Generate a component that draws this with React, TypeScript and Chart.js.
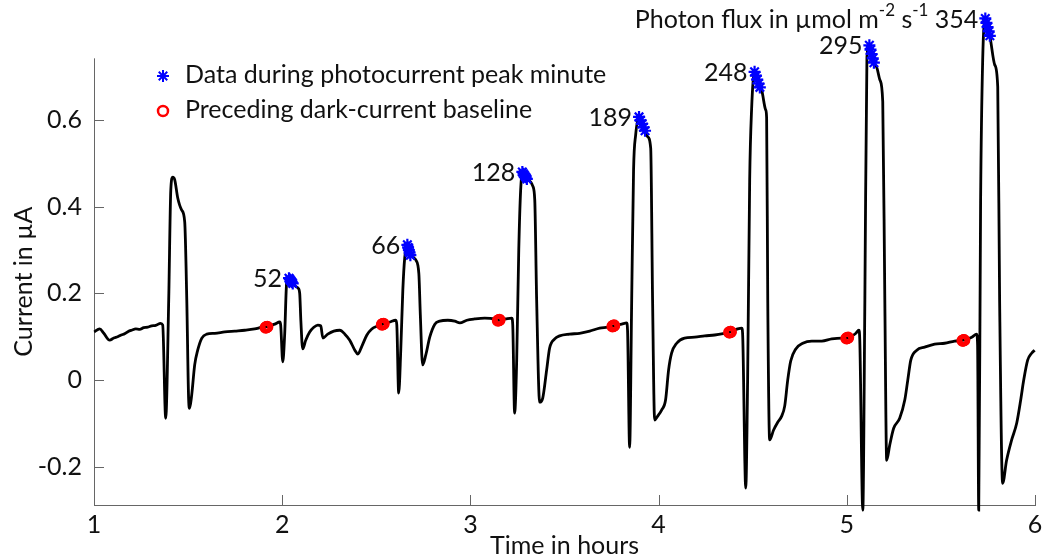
import React, { useEffect, useRef } from 'react';
import { Chart, registerables } from 'chart.js';

Chart.register(...registerables);

// ---- data ----
const traceHours = [
  1.001, 1.030, 1.052, 1.083, 1.105, 1.126, 1.145, 1.163, 1.182, 1.200, 1.222, 1.243, 1.264, 1.285, 1.306, 1.328, 1.354, 1.365,
  1.381, 1.397, 1.408, 1.418, 1.429, 1.445, 1.466, 1.482, 1.493, 1.503, 1.508, 1.519, 1.535, 1.551, 1.573, 1.599, 1.642, 1.695,
  1.748, 1.801, 1.854, 1.892, 1.923, 1.960, 1.987, 1.992, 2.003, 2.013, 2.024, 2.038, 2.050, 2.060, 2.072, 2.085, 2.093, 2.099,
  2.109, 2.125, 2.146, 2.168, 2.189, 2.205, 2.216, 2.242, 2.274, 2.306, 2.333, 2.359, 2.386, 2.402, 2.423, 2.450, 2.476, 2.508,
  2.535, 2.572, 2.604, 2.609, 2.619, 2.630, 2.641, 2.651, 2.665, 2.677, 2.688, 2.699, 2.710, 2.726, 2.734, 2.746, 2.763, 2.784,
  2.811, 2.837, 2.880, 2.917, 2.944, 2.981, 3.023, 3.076, 3.129, 3.150, 3.188, 3.220, 3.225, 3.235, 3.246, 3.257, 3.267, 3.278,
  3.290, 3.302, 3.318, 3.331, 3.342, 3.352, 3.368, 3.384, 3.405, 3.421, 3.448, 3.474, 3.527, 3.580, 3.634, 3.687, 3.729, 3.761,
  3.804, 3.830, 3.835, 3.846, 3.857, 3.867, 3.878, 3.896, 3.912, 3.928, 3.940, 3.958, 3.968, 3.979, 3.995, 4.016, 4.037, 4.053,
  4.069, 4.096, 4.138, 4.192, 4.245, 4.298, 4.351, 4.383, 4.420, 4.442, 4.447, 4.463, 4.473, 4.484, 4.494, 4.510, 4.524, 4.538,
  4.548, 4.569, 4.574, 4.580, 4.590, 4.611, 4.633, 4.654, 4.670, 4.686, 4.702, 4.729, 4.766, 4.814, 4.867, 4.920, 4.973, 5.005,
  5.048, 5.064, 5.069, 5.085, 5.096, 5.107, 5.120, 5.132, 5.144, 5.160, 5.176, 5.191, 5.202, 5.212, 5.228, 5.249, 5.281, 5.308,
  5.324, 5.340, 5.372, 5.414, 5.467, 5.520, 5.573, 5.621, 5.664, 5.690, 5.695, 5.701, 5.711, 5.722, 5.736, 5.748, 5.760, 5.786,
  5.802, 5.812, 5.828, 5.849, 5.876, 5.903, 5.924, 5.940, 5.961, 5.982, 5.998,
];
const traceCurrent = [
  0.111, 0.118, 0.108, 0.092, 0.097, 0.100, 0.104, 0.107, 0.112, 0.115, 0.118, 0.117, 0.121, 0.122, 0.125, 0.126, 0.131, 0.127,
  -0.088, 0.185, 0.438, 0.468, 0.462, 0.420, 0.392, 0.365, 0.185, -0.046, -0.065, -0.035, 0.035, 0.069, 0.097, 0.106, 0.108, 0.111,
  0.113, 0.115, 0.118, 0.122, 0.124, 0.129, 0.134, 0.127, 0.042, 0.104, 0.226, 0.235, 0.228, 0.222, 0.216, 0.212, 0.200, 0.138,
  0.072, 0.092, 0.111, 0.122, 0.127, 0.125, 0.097, 0.106, 0.113, 0.115, 0.106, 0.092, 0.069, 0.060, 0.078, 0.104, 0.118, 0.125,
  0.129, 0.134, 0.138, 0.127, -0.030, 0.069, 0.208, 0.282, 0.312, 0.300, 0.290, 0.282, 0.277, 0.246, 0.150, 0.035, 0.058, 0.099,
  0.129, 0.136, 0.138, 0.136, 0.132, 0.138, 0.141, 0.143, 0.141, 0.138, 0.141, 0.143, 0.127, -0.076, 0.046, 0.300, 0.438, 0.480,
  0.472, 0.464, 0.458, 0.448, 0.415, 0.185, -0.051, -0.042, 0.023, 0.074, 0.095, 0.102, 0.106, 0.108, 0.113, 0.120, 0.122, 0.125,
  0.129, 0.132, 0.115, -0.155, 0.185, 0.485, 0.565, 0.607, 0.591, 0.575, 0.562, 0.535, 0.185, -0.092, -0.083, -0.069, -0.046, 0.023,
  0.062, 0.085, 0.097, 0.099, 0.102, 0.104, 0.108, 0.111, 0.118, 0.120, 0.100, -0.249, 0.000, 0.462, 0.623, 0.711, 0.693, 0.675,
  0.668, 0.623, 0.605, 0.185, -0.138, -0.115, -0.097, -0.083, -0.060, 0.000, 0.044, 0.072, 0.085, 0.090, 0.090, 0.095, 0.097, 0.097,
  0.108, 0.115, 0.092, -0.300, 0.185, 0.745, 0.772, 0.752, 0.732, 0.720, 0.692, 0.642, 0.185, -0.185, -0.150, -0.111, -0.088, -0.046,
  0.000, 0.046, 0.069, 0.076, 0.083, 0.085, 0.090, 0.092, 0.099, 0.106, 0.080, -0.300, 0.415, 0.738, 0.834, 0.814, 0.794, 0.727,
  0.676, 0.185, -0.238, -0.185, -0.138, -0.099, -0.046, 0.000, 0.046, 0.062, 0.069,
];

const peakStarHours = [
  [2.036, 2.041, 2.046, 2.051, 2.056],
  [2.665, 2.669, 2.673, 2.677, 2.681],
  [3.276, 3.282, 3.288, 3.294, 3.300],
  [3.896, 3.904, 3.912, 3.920, 3.928],
  [4.510, 4.517, 4.524, 4.531, 4.538],
  [5.120, 5.126, 5.132, 5.138, 5.144],
  [5.736, 5.742, 5.748, 5.754, 5.760],
];
const peakStarCurrent = [
  [0.235, 0.232, 0.229, 0.226, 0.223],
  [0.312, 0.306, 0.300, 0.294, 0.288],
  [0.480, 0.476, 0.472, 0.468, 0.464],
  [0.607, 0.599, 0.591, 0.583, 0.575],
  [0.711, 0.702, 0.693, 0.684, 0.675],
  [0.772, 0.762, 0.752, 0.742, 0.732],
  [0.834, 0.824, 0.814, 0.804, 0.794],
];
const baselineHours = [
  [1.912, 1.915, 1.918, 1.921],
  [2.530, 2.533, 2.536, 2.539],
  [3.146, 3.149, 3.152, 3.155],
  [3.755, 3.758, 3.761, 3.764],
  [4.375, 4.378, 4.381, 4.384],
  [4.998, 5.001, 5.004, 5.007],
  [5.615, 5.618, 5.621, 5.624],
];
const baselineCurrent = [
  [0.121, 0.122, 0.122, 0.123],
  [0.128, 0.129, 0.129, 0.130],
  [0.137, 0.138, 0.138, 0.139],
  [0.124, 0.125, 0.125, 0.126],
  [0.110, 0.110, 0.111, 0.111],
  [0.096, 0.097, 0.097, 0.098],
  [0.091, 0.091, 0.092, 0.092],
];
const photonFlux = ['52', '66', '128', '189', '248', '295', '354'];
const xTicks = [1, 2, 3, 4, 5, 6];
const yTicks = [-0.2, 0, 0.2, 0.4, 0.6];
const xRange = [1, 6];
const yAxisRange = [-0.288, 0.742]; // drawn y-axis extent
const yDataMax = 0.85; // headroom for the tallest peak above the axis

const FONT = 'Lato, "DejaVu Sans", sans-serif';
const FS = 25;
const AXIS = '#666666';
const TEXT = '#111111';

function drawStar(ctx: CanvasRenderingContext2D, x: number, y: number, r: number) {
  ctx.beginPath();
  for (let k = 0; k < 4; k++) {
    const a = (k * Math.PI) / 4;
    ctx.moveTo(x - r * Math.cos(a), y - r * Math.sin(a));
    ctx.lineTo(x + r * Math.cos(a), y + r * Math.sin(a));
  }
  ctx.stroke();
}

const decoPlugin = {
  id: 'deco',
  beforeDatasetsDraw(chart: any) {
    const { ctx, chartArea, scales } = chart;
    const xs = scales.x;
    const ys = scales.y;
    ctx.save();
    ctx.strokeStyle = AXIS;
    ctx.lineWidth = 1;
    const left = Math.round(chartArea.left) + 0.5;
    ctx.beginPath();
    ctx.moveTo(left, ys.getPixelForValue(yAxisRange[1]));
    ctx.lineTo(left, chartArea.bottom);
    ctx.stroke();
    yTicks.forEach((v) => {
      const py = Math.round(ys.getPixelForValue(v)) + 0.5;
      ctx.beginPath();
      ctx.moveTo(chartArea.left, py);
      ctx.lineTo(chartArea.left + 10, py);
      ctx.stroke();
    });
    xTicks.forEach((v) => {
      const px = Math.round(xs.getPixelForValue(v)) + 0.5;
      ctx.beginPath();
      ctx.moveTo(px, chartArea.bottom);
      ctx.lineTo(px, chartArea.bottom - 10);
      ctx.stroke();
    });
    ctx.restore();
  },
  afterDraw(chart: any) {
    const { ctx, chartArea, scales } = chart;
    const xs = scales.x;
    const ys = scales.y;
    ctx.save();
    ctx.fillStyle = TEXT;
    ctx.font = `${FS}px ${FONT}`;
    ctx.textAlign = 'center';
    ctx.textBaseline = 'alphabetic';
    ctx.fillText('Time in hours', (chartArea.left + chartArea.right) / 2, 554);
    ctx.save();
    ctx.translate(32, (ys.getPixelForValue(yAxisRange[1]) + chartArea.bottom) / 2);
    ctx.rotate(-Math.PI / 2);
    ctx.fillText('Current in µA', 0, 0);
    ctx.restore();

    // legend
    ctx.textAlign = 'left';
    ctx.textBaseline = 'middle';
    ctx.strokeStyle = '#0000ff';
    ctx.lineWidth = 2;
    drawStar(ctx, 163, 76, 6);
    ctx.strokeStyle = '#ff0000';
    ctx.lineWidth = 2.5;
    ctx.beginPath();
    ctx.arc(163, 111, 5, 0, Math.PI * 2);
    ctx.stroke();
    ctx.fillStyle = TEXT;
    ctx.fillText('Data during photocurrent peak minute', 185, 75);
    ctx.fillText('Preceding dark-current baseline', 185, 110);

    // peak labels
    ctx.textAlign = 'right';
    photonFlux.forEach((label, i) => {
      const px = xs.getPixelForValue(peakStarHours[i][0]) - 7;
      const py = ys.getPixelForValue(peakStarCurrent[i][0]) + 1;
      if (i < photonFlux.length - 1) {
        ctx.fillText(label, px, py);
      } else {
        const parts = [
          { t: 'Photon flux in µmol m', sup: false },
          { t: '-2', sup: true },
          { t: ' s', sup: false },
          { t: '-1', sup: true },
          { t: ' ' + label, sup: false },
        ];
        const supFont = `${Math.round(FS * 0.68)}px ${FONT}`;
        const mainFont = `${FS}px ${FONT}`;
        let total = 0;
        const widths = parts.map((p) => {
          ctx.font = p.sup ? supFont : mainFont;
          const w = ctx.measureText(p.t).width;
          total += w;
          return w;
        });
        let cx = px - total;
        ctx.textAlign = 'left';
        parts.forEach((p, k) => {
          ctx.font = p.sup ? supFont : mainFont;
          ctx.fillText(p.t, cx, p.sup ? py - 9 : py);
          cx += widths[k];
        });
        ctx.font = mainFont;
      }
    });
    ctx.restore();
  },
};

export default function App() {
  const ref = useRef<HTMLCanvasElement | null>(null);
  useEffect(() => {
    document.body.style.margin = '0';
    const canvas = ref.current;
    if (!canvas) return;
    const lineData = traceHours.map((h, i) => ({ x: h, y: traceCurrent[i] }));
    const starData = peakStarHours.flatMap((hs, i) => hs.map((h, k) => ({ x: h, y: peakStarCurrent[i][k] })));
    const circData = baselineHours.flatMap((hs, i) => hs.map((h, k) => ({ x: h, y: baselineCurrent[i][k] })));
    const chart = new Chart(canvas, {
      type: 'scatter',
      data: {
        datasets: [
          {
            data: starData,
            pointStyle: 'star',
            pointRadius: 6,
            borderColor: '#0000ff',
            backgroundColor: '#0000ff',
            pointBorderWidth: 2.2,
            showLine: false,
            clip: false,
            order: 1,
          } as any,
          {
            data: circData,
            pointStyle: 'circle',
            pointRadius: 4,
            borderColor: '#ff0000',
            backgroundColor: 'rgba(0,0,0,0)',
            pointBorderWidth: 4.2,
            showLine: false,
            order: 2,
          } as any,
          {
            data: lineData,
            showLine: true,
            pointRadius: 0,
            borderColor: '#000000',
            borderWidth: 2.8,
            cubicInterpolationMode: 'monotone',
            clip: false,
            order: 3,
          } as any,
        ],
      },
      options: {
        animation: false,
        responsive: false,
        events: [],
        layout: { padding: { top: 11.5, right: 10, left: 0, bottom: 0 } },
        plugins: { legend: { display: false }, tooltip: { enabled: false } },
        scales: {
          x: {
            type: 'linear',
            min: xRange[0],
            max: xRange[1],
            grid: { display: false, drawTicks: false },
            border: { display: true, color: AXIS, width: 1 },
            afterBuildTicks: (s: any) => {
              s.ticks = xTicks.map((v) => ({ value: v }));
            },
            afterFit: (s: any) => {
              s.height = 55;
              s.paddingLeft = 0;
              s.paddingRight = 0;
            },
            ticks: {
              color: TEXT,
              font: { family: FONT, size: FS },
              padding: 5,
              maxRotation: 0,
              autoSkip: false,
              callback: (v: any) => String(v),
            },
          },
          y: {
            type: 'linear',
            min: yAxisRange[0],
            max: yDataMax,
            grid: { display: false, drawTicks: false },
            border: { display: false },
            afterBuildTicks: (s: any) => {
              s.ticks = yTicks.map((v) => ({ value: v }));
            },
            afterFit: (s: any) => {
              s.width = 94;
              s.paddingTop = 0;
              s.paddingBottom = 0;
            },
            ticks: {
              color: TEXT,
              font: { family: FONT, size: FS },
              padding: 12,
              autoSkip: false,
              callback: (v: any) => String(Number(Number(v).toFixed(1))),
            },
          },
        },
      },
      plugins: [decoPlugin],
    });
    return () => chart.destroy();
  }, []);
  return (
    <div style={{ width: 1045, height: 560 }}>
      <canvas ref={ref} width={1045} height={560} style={{ display: 'block' }} />
    </div>
  );
}
